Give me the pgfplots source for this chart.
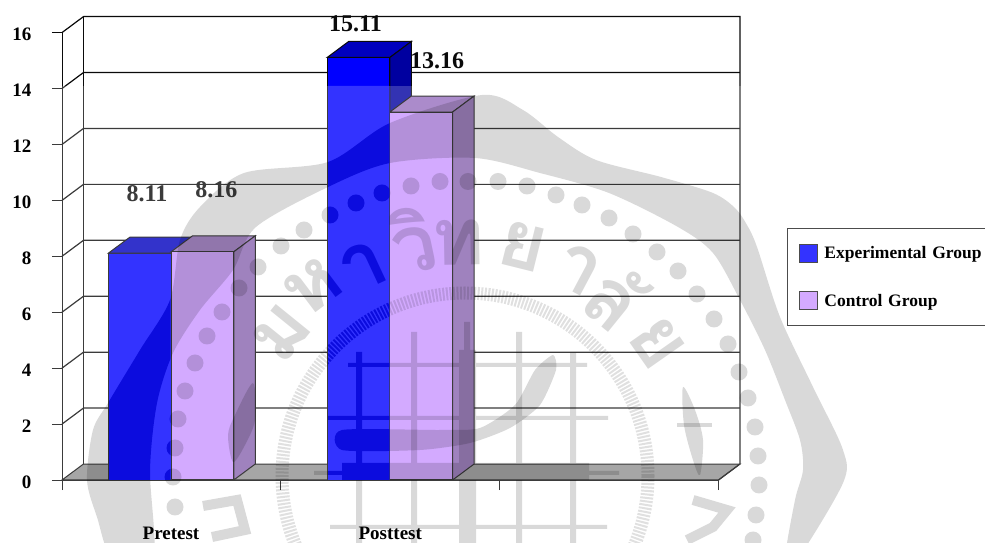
\documentclass[border=0pt]{standalone}
\usepackage{fontspec}
\setmainfont{Liberation Serif}
\newfontfamily\thaifont[Script=Thai]{Loma}
\usepackage{pgfplots}
\pgfplotsset{compat=1.18}
\definecolor{expfront}{RGB}{0,0,255}
\definecolor{expside}{RGB}{0,0,160}
\definecolor{exptop}{RGB}{0,0,190}
\definecolor{ctlfront}{RGB}{201,149,255}
\definecolor{ctlside}{RGB}{136,99,174}
\definecolor{ctltop}{RGB}{150,110,190}
\definecolor{lgblue}{RGB}{51,51,255}
\definecolor{lgpurple}{RGB}{212,170,255}
\definecolor{wmblue}{RGB}{12,12,222}
\definecolor{floorgray}{RGB}{144,144,144}
\definecolor{lin}{RGB}{10,10,10}
% watermark drawn twice: once as a veil over everything, once in the darker blue inside the blue bars
\newcommand{\wmshapes}{%
  \fill[wm] plot[smooth cycle,tension=.5] coordinates {(113,560)(97,517)(87,480)(93,430)(108,403)(140,350)(170,300)(180,240)(200,207)(244,173)(328,162)(390,123)(482,95)(523,110)(558,137)(596,160)(661,177)(713,193)(735,208)(747,225)(757,247)(780,317)(813,387)(843,450)(843,483)(797,560)(785,560)(795,500)(803,470)(800,440)(785,400)(765,350)(740,300)(713,253)(678,227)(609,193)(540,173)(475,158)(390,163)(328,187)(256,227)(233,270)(200,310)(173,353)(157,403)(150,470)(153,560)};
  \foreach \p in {(411,186),(440,181.5),(468,181.5),(498,181.5),(527,186),(556,195),(582,205),(609,218),(633,234),(657,252),(678,271),(697,294),(714,319),(728,344),(739,372),(748,398),(755,427),(758,456),(759,485),(756,515),(753,540),(382,193),(356,203),(330,215),(304,230),(281,246),(258,267),(239,288),(222,312),(207,336),(195,363),(185,391),(178,419),(175,448),(173,477),(175,507)}
    {\fill[wm] \p circle (8.5);}
  \draw[wmring,line width=13pt,dash pattern=on 2pt off 1.5pt] (465,476) circle (183);
  \fill[wm] (356,352) rectangle (362,543) (411,332) rectangle (417,543) (464,322) rectangle (470,350) (459,350) rectangle (476,543) (516,332) rectangle (522,543) (570,353) rectangle (576,543)
     (348,363) rectangle (587,367) (328,416) rectangle (608,420) (330,525) rectangle (607,529) (342,463) rectangle (589,480) (314,471) rectangle (342,475) (589,471) rectangle (619,475);
  \fill[wm] plot[smooth cycle,tension=.4] coordinates {(342,430)(440,430)(480,428)(515,405)(535,370)(553,355)(556,370)(540,405)(510,428)(470,443)(420,450)(342,450)};
  \fill[wm] plot[smooth cycle,tension=.5] coordinates {(683,387)(695,410)(703,440)(700,475)(693,460)(684,425)};
  \fill[wm] (677,423) rectangle (712,427);
  \fill[wm] plot[smooth cycle,tension=.5] coordinates {(253,383)(255,420)(245,445)(233,462)(228,435)(235,415)};
  \draw[wmline,line width=10pt] (203,506) -- (237,500) -- (245,530) -- (212,537);
  \draw[wmline,line width=10pt] (693,500) -- (727,510) -- (713,527) -- (687,540);
}
\begin{document}
\begin{tikzpicture}
\begin{axis}[
  at={(62pt,63pt)}, anchor=south west,
  scale only axis, width=656.5pt, height=447.4pt,
  xmin=0, xmax=3, ymin=0, ymax=16, clip=false,
  axis x line=bottom, axis y line=left,
  axis line style={-,lin,line width=.9pt},
  tick align=outside, major tick length=10pt,
  tick style={lin,line width=.9pt},
  xtick={0,1,2,3}, xticklabels={},
  extra x ticks={0.498,1.5}, extra x tick labels={Pretest,Posttest},
  extra x tick style={major tick length=0pt, tick label style={yshift=-47pt,inner ysep=0pt}},
  ytick={0,2,...,16},
  font=\bfseries\fontsize{19}{19}\selectfont,
  tick label style={font=\bfseries\fontsize{19}{19}\selectfont},
  yticklabel style={xshift=-17pt,yshift=-2pt},
  /pgf/number format/assume math mode=true,
  legend cell align=left,
  legend style={at={(1.1044,0.5622)}, anchor=north west, draw=black!70, line width=.8pt,
    fill=white, font=\bfseries\fontsize{17.5}{18}\selectfont,
    row sep=28.5pt, inner xsep=12pt, inner ysep=15pt,
    nodes={text width=190pt, align=left}},
]
% value labels, behind the bars
\node[font=\bfseries\fontsize{24}{24}\selectfont, lin] at (axis cs:0.3885,10.24) {8.11};
\node[font=\bfseries\fontsize{24}{24}\selectfont, lin] at (axis cs:0.706,10.37) {8.16};
\node[font=\bfseries\fontsize{24}{24}\selectfont, lin] at (axis cs:1.341,16.33) {15.11};
\node[font=\bfseries\fontsize{24}{24}\selectfont, lin] at (axis cs:1.714,15.0) {13.16};
% floor
\addplot[fill=floorgray,draw=lin,line width=1pt,forget plot] coordinates {(0,0)(0.0982,0.572)(3.0982,0.572)(3,0)} --cycle;
% back wall
\addplot[draw=lin,line width=1.2pt,forget plot] coordinates {(0,16)(0.0982,16.572)(3.0982,16.572)(3.0982,0.572)(3,0)};
\addplot[draw=lin,line width=1.2pt,forget plot] coordinates {(0.0982,16.572)(0.0982,0.572)};
\addplot[draw=lin,line width=1.2pt,forget plot] coordinates {(0,2)(0.0982,2.572)(3.0982,2.572)};
\addplot[draw=lin,line width=1.2pt,forget plot] coordinates {(0,4)(0.0982,4.572)(3.0982,4.572)};
\addplot[draw=lin,line width=1.2pt,forget plot] coordinates {(0,6)(0.0982,6.572)(3.0982,6.572)};
\addplot[draw=lin,line width=1.2pt,forget plot] coordinates {(0,8)(0.0982,8.572)(3.0982,8.572)};
\addplot[draw=lin,line width=1.2pt,forget plot] coordinates {(0,10)(0.0982,10.572)(3.0982,10.572)};
\addplot[draw=lin,line width=1.2pt,forget plot] coordinates {(0,12)(0.0982,12.572)(3.0982,12.572)};
\addplot[draw=lin,line width=1.2pt,forget plot] coordinates {(0,14)(0.0982,14.572)(3.0982,14.572)};
% Experimental: top and side, then front
\addplot[fill=exptop,draw=lin,line width=1pt,forget plot] coordinates {(0.2116,8.11)(0.3098,8.682)(0.5965,8.682)(0.4983,8.11)} --cycle;
\addplot[fill=expside,draw=lin,line width=1pt,forget plot] coordinates {(0.4983,8.11)(0.5965,8.682)(0.5965,0.572)(0.4983,0)} --cycle;
\addplot[fill=exptop,draw=lin,line width=1pt,forget plot] coordinates {(1.2116,15.11)(1.3098,15.682)(1.5965,15.682)(1.4983,15.11)} --cycle;
\addplot[fill=expside,draw=lin,line width=1pt,forget plot] coordinates {(1.4983,15.11)(1.5965,15.682)(1.5965,0.572)(1.4983,0)} --cycle;
\addplot[ybar,bar shift=0pt,bar width=0.2867,fill=expfront,draw=lin,line width=1pt,
  legend image code/.code={\draw[fill=lgblue,draw=black!70,line width=.9pt] (0pt,-9pt) rectangle (18pt,9pt);\path[draw=none,fill=none] (18pt,0pt) -- (22.5pt,0pt);}]
  coordinates {(0.355,8.11)(1.355,15.11)};
\addlegendentry{Experimental Group}
% Control: top and side, then front
\addplot[fill=ctltop,draw=lin,line width=1pt,forget plot] coordinates {(0.4983,8.16)(0.5965,8.732)(0.8832,8.732)(0.785,8.16)} --cycle;
\addplot[fill=ctlside,draw=lin,line width=1pt,forget plot] coordinates {(0.785,8.16)(0.8832,8.732)(0.8832,0.572)(0.785,0)} --cycle;
\addplot[fill=ctltop,draw=lin,line width=1pt,forget plot] coordinates {(1.4983,13.16)(1.5965,13.732)(1.8832,13.732)(1.785,13.16)} --cycle;
\addplot[fill=ctlside,draw=lin,line width=1pt,forget plot] coordinates {(1.785,13.16)(1.8832,13.732)(1.8832,0.572)(1.785,0)} --cycle;
\addplot[ybar,bar shift=0pt,bar width=0.2867,fill=ctlfront,draw=lin,line width=1pt,
  legend image code/.code={\draw[fill=lgpurple,draw=black!70,line width=.9pt] (0pt,-9pt) rectangle (18pt,9pt);\path[draw=none,fill=none] (18pt,0pt) -- (22.5pt,0pt);}]
  coordinates {(0.6416,8.16)(1.6416,13.16)};
\addlegendentry{Control Group}
\end{axis}
\begin{scope}[x=1pt,y=-1pt,yshift=543pt]
  % pale veil of the scanned overlay, from y=86 down
  \fill[white,opacity=.2] (50,86) rectangle (745,497);
  % watermark
  \tikzset{wm/.style={black,opacity=.15},wmring/.style={black,opacity=.12},wmline/.style={black,opacity=.15},
           wmtext/.style={text=black,text opacity=.15,inner sep=0pt}}
  \wmshapes
  \foreach \t/\x/\y/\r in {ม/282/333/51,ห/313/287/37,า/363/267/25,วิ/413/240/12,ท/458/243/1,ย/523/246/-14,า/578/269/-28,ลั/616/297/-39,ย/657/343/-55}
    {\node[wmtext,rotate=\r] at (\x,\y) {\thaifont\bfseries\fontsize{80}{80}\selectfont \t};}
  \begin{scope}
    \clip (109,254) rectangle (170.3,480) (328,86) rectangle (389.3,480);
    \fill[lgblue] (109,254) rectangle (170.3,480) (328,86) rectangle (389.3,480);
    \tikzset{wm/.style={wmblue},wmring/.style={wmblue},wmline/.style={wmblue},
           wmtext/.style={text=wmblue,inner sep=0pt}}
    \wmshapes
    \node[wmtext,rotate=25] at (363,267) {\thaifont\bfseries\fontsize{80}{80}\selectfont า};
    \node[wmtext,rotate=37] at (313,287) {\thaifont\bfseries\fontsize{80}{80}\selectfont ห};
  \end{scope}
  \pgfresetboundingbox
  \path[use as bounding box] (0,0) rectangle (985,543);
\end{scope}
\end{tikzpicture}
\end{document}
